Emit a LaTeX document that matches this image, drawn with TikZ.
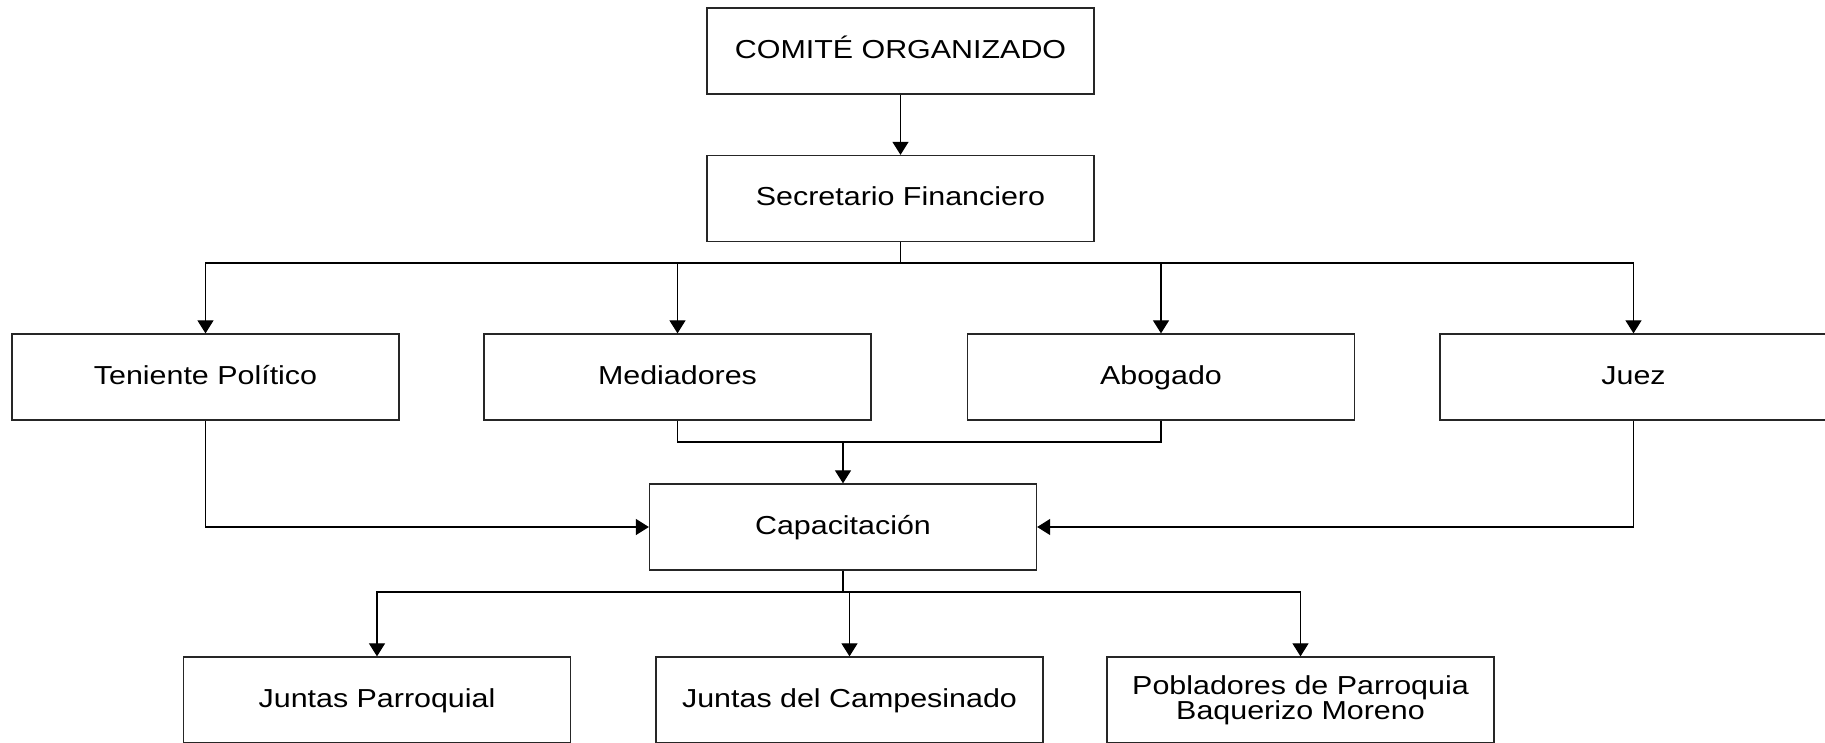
\documentclass[tikz,border=0pt]{standalone}
\usepackage{fontspec}
\setmainfont{Liberation Sans}[FakeStretch=1.17]
\usetikzlibrary{arrows.meta}
\begin{document}
\begin{tikzpicture}[x=1pt,y=1pt,
  box/.style={draw=black!85,line width=1.3pt,minimum width=387pt,minimum height=86pt,inner sep=0pt,align=center,text height=19pt,text depth=5pt,font=\fontsize{26}{24}\selectfont},
  conn/.style={draw=black,line width=1.2pt},
  arr/.style={conn,-{Triangle[width=16pt,length=13pt]}}]
\useasboundingbox (0,0) rectangle (1825,-742);
\clip (0,0) rectangle (1825,-742);
\node[box] (com) at (900.5,-51) {COMITÉ ORGANIZADO};
\node[box] (sec) at (900.5,-198.5) {Secretario Financiero};
\node[box] (ten) at (205.5,-377) {Teniente Político};
\node[box] (med) at (677.5,-377) {Mediadores};
\node[box] (abo) at (1161,-377) {Abogado};
\node[box] (juez) at (1633.5,-377) {Juez};
\node[box] (cap) at (843,-527) {Capacitación};
\node[box] (jp) at (377,-700) {Juntas Parroquial};
\node[box] (jc) at (849.5,-700) {Juntas del Campesinado};
\node[box,text height=,text depth=] (pob) at (1300.5,-700) {Pobladores de Parroquia\\Baquerizo Moreno};
\coordinate (s1) at (900.5,-263);
\coordinate (m1) at (843,-442);
\coordinate (c1) at (843,-592);
\coordinate (c2) at (849.5,-592);
\draw[arr] (com.south) -- (sec.north);
\draw[conn] (sec.south) -- (s1);
\draw[arr] (s1) -| (ten.north);
\draw[arr] (s1) -| (med.north);
\draw[arr] (s1) -| (abo.north);
\draw[arr] (s1) -| (juez.north);
\draw[conn] (med.south) |- (m1);
\draw[conn] (abo.south) |- (m1);
\draw[arr] (m1) -- (cap.north);
\draw[arr] (ten.south) |- (cap.west);
\draw[arr] (juez.south) |- (cap.east);
\draw[conn] (cap.south) -- (c1);
\draw[arr] (c1) -| (jp.north);
\draw[arr] (c1) -| (pob.north);
\draw[arr] (c2) -- (jc.north);
\end{tikzpicture}
\end{document}
